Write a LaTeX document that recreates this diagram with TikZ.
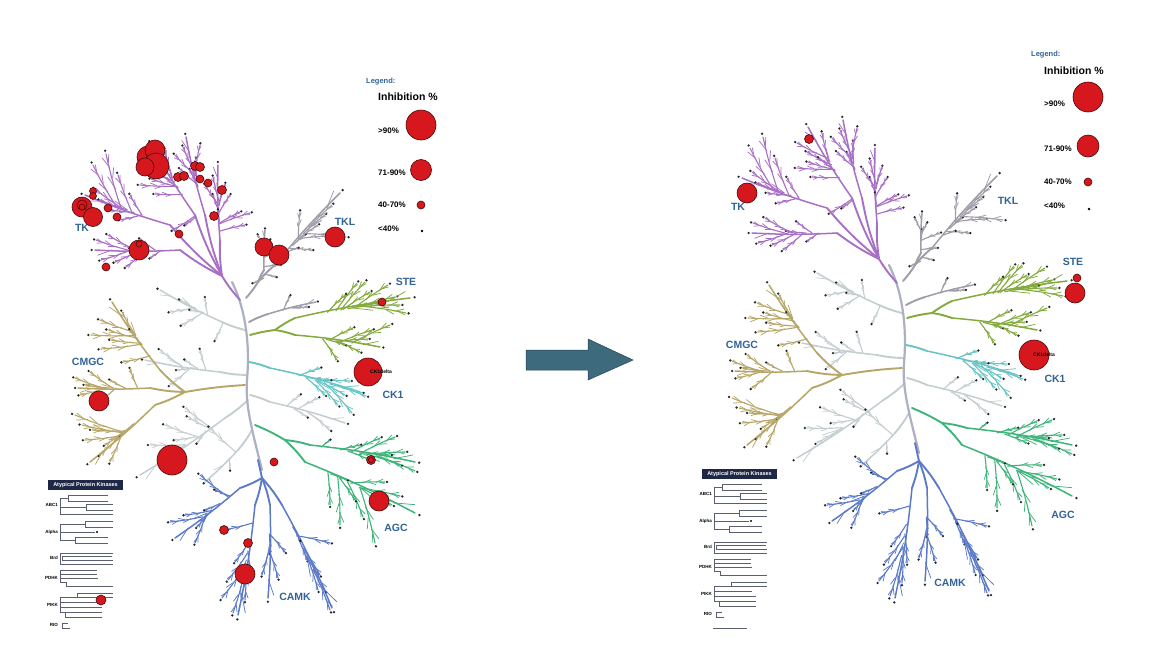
\documentclass[tikz,border=0pt]{standalone}
\usepackage{fontspec}
\setmainfont{Liberation Sans}
\usetikzlibrary{calc}
\definecolor{tkcol}{RGB}{168,112,196}
\definecolor{tklcol}{RGB}{160,156,168}
\definecolor{stecol}{RGB}{132,170,62}
\definecolor{ck1col}{RGB}{104,196,196}
\definecolor{agccol}{RGB}{62,180,122}
\definecolor{camkcol}{RGB}{92,122,200}
\definecolor{cmgccol}{RGB}{182,166,104}
\definecolor{othcol}{RGB}{196,206,208}
\definecolor{trunkcol}{RGB}{172,176,194}
\definecolor{labcol}{RGB}{50,100,152}
\definecolor{inhred}{RGB}{214,24,30}
\definecolor{inhedge}{RGB}{70,10,10}
\definecolor{arrcol}{RGB}{62,106,126}
\definecolor{arredge}{RGB}{40,70,85}
\definecolor{navy}{RGB}{30,40,70}
\definecolor{dendcol}{RGB}{90,96,110}
\tikzset{
  br/.style={line width=1.1pt, line cap=round},
  stemw/.style={line width=1.9pt},
  twig/.style={line width=0.75pt},
  tkc/.style={br, draw=tkcol},
  tklc/.style={br, draw=tklcol},
  stec/.style={br, draw=stecol},
  ck1c/.style={br, draw=ck1col},
  agcc/.style={br, draw=agccol},
  camkc/.style={br, draw=camkcol},
  cmgcc/.style={br, draw=cmgccol},
  othc/.style={br, draw=othcol},
  inh/.style={fill=inhred, draw=inhedge, line width=0.6pt},
  famlab/.style={text=labcol, font=\fontsize{10.5}{12}\selectfont\bfseries, inner sep=0pt},
  leglab/.style={anchor=west, inner sep=0pt, font=\fontsize{8}{9}\selectfont\bfseries},
  legtitle/.style={anchor=west, inner sep=0pt, text=labcol, font=\fontsize{7.5}{9}\selectfont\bfseries},
  leginh/.style={anchor=west, inner sep=0pt, font=\fontsize{10.5}{12}\selectfont\bfseries},
  dend/.style={draw=dendcol, line width=0.6pt},
  atlab/.style={anchor=east, inner sep=0pt, font=\fontsize{4.5}{5}\selectfont\bfseries},
  attitle/.style={inner sep=0pt, text=white, font=\fontsize{5.5}{6}\selectfont\bfseries},
  cklab/.style={anchor=west, inner sep=0pt, font=\fontsize{5}{6}\selectfont\bfseries},
}
% one twig off a leaf branch: style, start frac, angle, length frac
\newcommand\tw[4]{%
  \coordinate (tq) at ($(ab)!#2!(\x,\y)$);
  \draw[#1,twig] (tq) -- ($(tq)!#4!#3:(\x,\y)$);
}
% group: style, root x, root y, hub x, hub y, tip "x,y", leaves x/y
\newcommand\grp[7]{%
  \draw[#1,stemw] (#2,#3) to[bend left=5] (#4,#5);
  \draw[#1,line width=1.5pt] (#4,#5) to[bend left=3] (#6);
  \foreach \x/\y in {#7}{%
    \coordinate (aa) at ($(#4,#5)!(\x,\y)!(#6)$);
    \coordinate (ab) at ($(#4,#5)!0.62!(aa)$);
    \draw[#1] (ab) to[bend left=3] (\x,\y);
    \tw{#1}{0.35}{18}{0.4}
    \tw{#1}{0.55}{-20}{0.42}
    \tw{#1}{0.74}{22}{0.85}
    \tw{#1}{0.84}{-18}{0.9}
    \fill[black!85] ($(ab)!1.06!(\x,\y)$) circle (1.3pt);
  }%
  \coordinate (tt) at ($(#4,#5)!0.8!(#6)$);
  \draw[#1,twig] (tt) -- ($(tt)!0.9!20:(#6)$);
  \coordinate (tt) at ($(#4,#5)!0.5!(#6)$);
  \draw[#1,twig] (tt) -- ($(tt)!0.35!-16:(#6)$);
  \fill[black!85] ($(#4,#5)!1.04!(#6)$) circle (1.3pt);
}
\newcommand\kinome{%
  % other (pale) groups
  \grp{othc}{245}{330}{222}{322}{160,290}{180/300, 205/298, 215/340, 170/312, 182/325, 190/310}
  \grp{othc}{247}{375}{220}{372}{145,360}{160/350, 177/370, 170/385, 200/350, 185/360}
  \grp{othc}{248}{400}{225}{418}{140,475}{150/445, 185/408, 188/417, 197/443, 165/425, 160/460, 175/440}
  \grp{othc}{252}{430}{238}{450}{205,482}{230/470, 210/428}
  \grp{othc}{250}{395}{270}{402}{345,423}{307/417, 330/430, 300/395, 318/398}
  \grp{tklc}{249}{322}{268}{314}{316,302}{308/307, 290/296}
  % trunk
  \draw[br, draw=trunkcol, line width=2.2pt] (232,282) .. controls (246,310) and (250,345) .. (247,380) .. controls (245,405) and (252,430) .. (262,470);
  % TK
  \draw[tkc,stemw] (240,300) to[bend left=5] (222,276);
  \grp{tkc}{222}{276}{180}{250}{95,250}{96/240, 101/260, 126/267, 108/235, 140/239, 115/262, 130/248, 150/258}
  \grp{tkc}{222}{276}{170}{225}{85,195}{95/189, 110/210, 93/165, 106/154, 120/220, 100/200, 130/195, 118/175}
  \grp{tkc}{222}{276}{195}{215}{151,144}{150/169, 151/179, 155/194, 173/230, 185/225, 140/160, 165/150, 162/175, 140/185}
  \grp{tkc}{222}{276}{205}{215}{186,137}{183/147, 180/169, 190/170, 196/159, 200/145, 175/155}
  \grp{tkc}{222}{276}{220}{240}{218,165}{213/177, 225/184, 213/195, 218/210, 240/212, 250/213, 230/195, 245/225, 205/185}
  % TKL
  \draw[tklc,stemw] (246,298) to[bend right=5] (258,282);
  \grp{tklc}{258}{282}{264}{270}{265,230}{253/283, 265/247, 270/240, 283/250, 276/277, 258/235, 280/265}
  \grp{tklc}{258}{282}{275}{265}{340,193}{328/236, 346/237, 325/215, 305/235, 300/212, 318/225, 332/205, 312/250, 298/248}
  % STE
  \draw[stec,stemw] (250,335) to[bend left=4] (275,330);
  \grp{stec}{275}{330}{295}{318}{410,298}{357/283, 365/282, 395/297, 406/313, 380/303, 345/295, 370/292, 388/285, 400/305}
  \grp{stec}{275}{330}{295}{335}{380,347}{353/328, 368/339, 360/352, 337/360, 390/325, 345/345, 372/330}
  % CK1
  \grp{ck1c}{249}{362}{270}{368}{360,392}{320/368, 350/381, 366/396, 352/413, 338/405, 330/380, 345/395, 325/395}
  % AGC
  \draw[agcc,stemw] (255,425) to[bend left=4] (285,440);
  \grp{agcc}{285}{440}{310}{445}{415,462}{395/437, 405/452, 415/471, 380/438, 370/460, 330/440, 360/445, 390/455, 400/465}
  \grp{agcc}{285}{440}{305}{462}{415,513}{400/496, 375/543, 363/517, 347/480, 385/482, 340/525, 392/505, 355/500, 330/505}
  % CAMK
  \draw[camkc,stemw] (258,460) to (262,478);
  \grp{camkc}{262}{478}{240}{488}{175,538}{195/543, 197/527, 215/490, 200/475, 170/522, 185/515, 205/510}
  \grp{camkc}{262}{478}{255}{505}{238,615}{233/613, 224/530, 235/562, 222/598, 250/580, 228/580, 245/600}
  \grp{camkc}{262}{478}{270}{505}{268,598}{270/553, 285/552, 278/578, 262/575}
  \grp{camkc}{262}{478}{282}{505}{332,608}{330/610, 330/543, 307/560, 318/590, 320/575, 300/540, 325/590}
  % CMGC
  \draw[cmgcc,stemw] (245,385) to[bend right=3] (185,392);
  \grp{cmgcc}{185}{392}{160}{370}{112,302}{122/312, 91/335, 108/330, 111/340, 101/349, 123/362, 100/320, 130/330}
  \grp{cmgcc}{185}{392}{150}{388}{78,388}{75/378, 80/395, 90/372, 130/369, 95/405, 85/385, 110/380}
  \grp{cmgcc}{185}{392}{155}{405}{90,462}{75/415, 85/440, 100/455, 110/462, 120/435, 82/425, 92/430, 105/445}
}
\newcommand\atyp{%
  \fill[navy] (48,480) rectangle (123,490);
  \node[attitle] (at) at (85.5,485) {Atypical Protein Kinases};
  \node[atlab] (abc) at (58,505) {ABC1};
  \node[atlab] (alpha) at (58,532) {Alpha};
  \node[atlab] (brd) at (58,558) {Brd};
  \node[atlab] (pdhk) at (58,578) {PDHK};
  \node[atlab] (pikk) at (58,605) {PIKK};
  \node[atlab] (rio) at (58,625) {RIO};
  % ABC1
  \draw[dend] (60,498)--(60,514) (60,498)--(68,498) (68,495)--(68,501) (68,495)--(108,495) (68,501)--(108,501)
    (60,507)--(86,507) (86,504)--(86,510) (86,504)--(113,504) (86,510)--(113,510) (60,514)--(113,514);
  % Alpha
  \draw[dend] (60,524)--(60,540) (60,524)--(85,524) (85,521)--(85,527) (85,521)--(113,521) (85,527)--(113,527)
    (60,532)--(95,532) (60,540)--(75,540) (75,537)--(75,543) (75,537)--(108,537) (75,543)--(108,543);
  \fill[black] (97,532) circle (1.2pt);
  % Brd
  \draw[dend] (60,553)--(60,564) (60,553)--(113,553) (62,556)--(112,556) (62,560)--(113,560) (60,564)--(113,564) (62,556)--(62,560);
  % PDHK
  \draw[dend] (60,570)--(60,582) (60,570)--(97,570) (60,574)--(97,574) (60,578)--(98,578) (60,582)--(66,582) (66,582)--(66,586) (66,586)--(113,586);
  % PIKK
  \draw[dend] (60,597)--(60,612) (77,593)--(113,593) (77,593)--(77,597) (60,597)--(113,597) (60,602)--(98,602)
    (60,607)--(102,607) (60,612)--(65,612) (65,612)--(65,617) (65,612)--(102,612) (65,617)--(102,617);
  % RIO
  \draw[dend] (62,623)--(62,628) (62,623)--(68,623) (62,628)--(70,628);
}
\begin{document}
\begin{tikzpicture}[x=1pt,y=-1pt]
\useasboundingbox (0,0) rectangle (1154,664);
\fill[white] (0,0) rectangle (1154,664);

% ---------------- left tree ----------------
\begin{scope}[name prefix=l-]
  \kinome
  \atyp
  \node[famlab] (tk) at (82,228) {TK};
  \node[famlab] (tkl) at (345,222) {TKL};
  \node[famlab] (ste) at (406,282) {STE};
  \node[famlab] (cmgc) at (88,362) {CMGC};
  \node[famlab] (ck1) at (393,395) {CK1};
  \node[famlab] (agc) at (396,528) {AGC};
  \node[famlab] (camk) at (295,597) {CAMK};
  \foreach \cx/\cy/\r in {148/157/11, 155/150/10, 156/166/13, 145/167/9,
      178/177/4.5, 184/176/4.5, 195/166/4.5, 200/167/4.5, 200/179/4, 208/183/4, 222/190/4.5, 214/216/4.5,
      82/207/10, 93/217/9.5, 82/205/5, 82/207/3, 93/191/3.5, 93/196/3.5, 108/208/4, 117/217/4,
      139/250/10, 139/244/3, 106/267/4, 179/234/4, 264/247/9, 279/255/10, 335/237/10, 382/302/4,
      99/401/10, 172/460/15, 274/462/4, 379/501/10, 371/460/4.5, 371/460/2.5, 224/530/4.5, 248/543/4.5, 245/574/10, 101/600/5}
    {\draw[inh] (\cx,\cy) circle (\r pt);}
  \draw[inh] (368,372) circle (14pt);
  \node[cklab] (ckd) at (370,372) {CK1delta};
  % legend
  \node[legtitle] (lg) at (366,82) {Legend:};
  \node[leginh] (li) at (378,97) {Inhibition \%};
  \node[leglab] (l1) at (378,131) {>90\%};
  \node[leglab] (l2) at (378,173) {71-90\%};
  \node[leglab] (l3) at (378,205) {40-70\%};
  \node[leglab] (l4) at (378,229) {<40\%};
  \draw[inh] (421,125) circle (15pt);
  \draw[inh] (421,170) circle (10.5pt);
  \draw[inh] (421,205) circle (4pt);
  \fill[black] (422,231) circle (1.3pt);
\end{scope}

% ---------------- arrow ----------------
\filldraw[fill=arrcol, draw=arredge, line width=0.5pt] (526,350) -- (588,350) -- (588,339) -- (633,360) -- (588,380) -- (588,370) -- (526,370) -- cycle;

% ---------------- right tree ----------------
\begin{scope}[name prefix=r-, shift={(657,-17)}]
  \kinome
\end{scope}
\begin{scope}[name prefix=ra-, shift={(654,-11)}]
  \atyp
  \draw[dend] (59,639)--(93,639);
\end{scope}
\begin{scope}[name prefix=r-]
  \node[famlab] (tk) at (738,207) {TK};
  \node[famlab] (tkl) at (1008,201) {TKL};
  \node[famlab] (ste) at (1073,262) {STE};
  \node[famlab] (cmgc) at (742,345) {CMGC};
  \node[famlab] (ck1) at (1055,379) {CK1};
  \node[famlab] (agc) at (1063,515) {AGC};
  \node[famlab] (camk) at (950,583) {CAMK};
  \draw[inh] (747,193) circle (10pt);
  \draw[inh] (809,139) circle (4.5pt);
  \draw[inh] (1077,278) circle (4pt);
  \draw[inh] (1075,293) circle (10pt);
  \draw[inh] (1034,355) circle (15pt);
  \node[cklab] (ckd) at (1033,355) {CK1delta};
  % legend
  \node[legtitle] (lg) at (1031,55) {Legend:};
  \node[leginh] (li) at (1044,71) {Inhibition \%};
  \node[leglab] (l1) at (1044,104) {>90\%};
  \node[leglab] (l2) at (1044,149) {71-90\%};
  \node[leglab] (l3) at (1044,182) {40-70\%};
  \node[leglab] (l4) at (1044,206) {<40\%};
  \draw[inh] (1088,97) circle (15pt);
  \draw[inh] (1088,146) circle (11pt);
  \draw[inh] (1088,182) circle (4pt);
  \fill[black] (1089,209) circle (1.3pt);
\end{scope}
\end{tikzpicture}
\end{document}
